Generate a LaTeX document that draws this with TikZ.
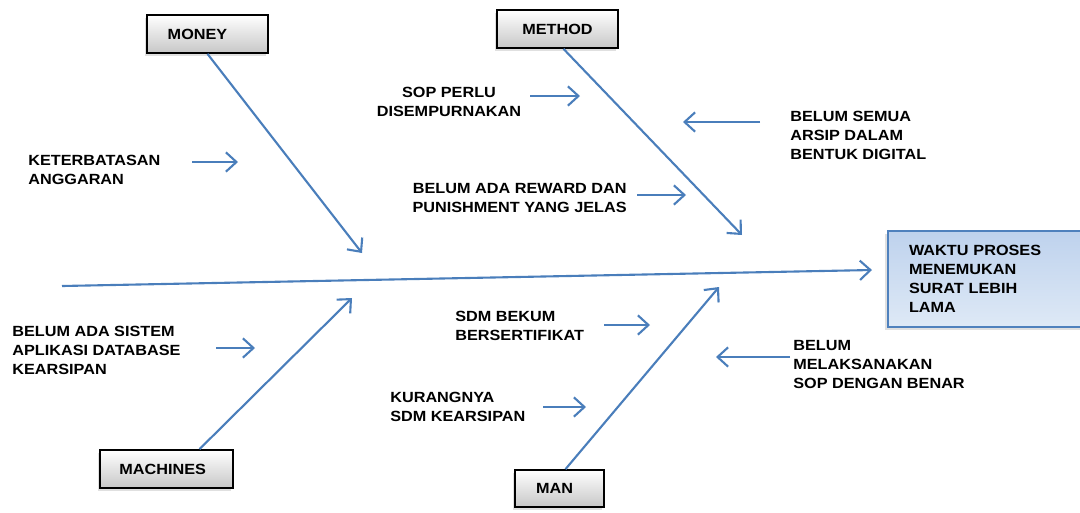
\documentclass[tikz,border=0pt]{standalone}
\usepackage{fontspec}
\setmainfont{Liberation Sans}[FakeStretch=1.1]
\usetikzlibrary{
  arrows.meta,
  shadows,
  positioning
}
\definecolor{bonecolor}{RGB}{74,126,187}
\definecolor{effectdraw}{RGB}{79,129,189}
\definecolor{effecttop}{RGB}{190,210,237}
\definecolor{effectbot}{RGB}{222,233,246}

\begin{document}
\begin{tikzpicture}[
      x=0.02cm, y=-0.02cm,
      category/.style={
         rectangle,
         minimum width=2.42cm,
         minimum height=0.76cm,
         line width=1pt,
         draw=black,
         top color=white,
         bottom color=black!22,
         drop shadow={shadow xshift=-1pt,shadow yshift=-1.5pt,fill=black!30,opacity=.4},
         font=\fontsize{8.4}{10.8}\selectfont\bfseries
      },
      effect/.style={
         rectangle,
         anchor=north west,
         minimum height=1.92cm,
         text width=3.5cm,
         inner xsep=0.42cm,
         align=left,
         line width=1.2pt,
         draw=effectdraw,
         top color=effecttop,
         bottom color=effectbot,
         drop shadow={shadow xshift=-1.5pt,shadow yshift=-1.5pt,fill=black!30,opacity=.4},
         font=\fontsize{8.4}{10.8}\selectfont\bfseries
      },
      cause/.style={
         inner sep=0pt,
         font=\fontsize{8.4}{10.8}\selectfont\bfseries
      },
      bone/.style={draw=bonecolor,line width=1.2pt},
      tip/.style={bone,-{Straight Barb[length=6pt,width=11pt]}}
    ]
    \clip (0,0) rectangle (1080,512);
    % main categories
    \node (money)    [category] at (207.5,34)  {MONEY\hspace*{0.4cm}};
    \node (method)   [category] at (557.5,29)  {METHOD};
    \node (machines) [category, minimum width=2.66cm] at (166.5,469) {MACHINES\hspace*{0.15cm}};
    \node (man)      [category, minimum width=1.78cm, minimum height=0.74cm] at (559.5,488.5) {MAN\hspace*{0.2cm}};
    \node (effect)   [effect] at (887,230) {WAKTU PROSES\\MENEMUKAN\\SURAT LEBIH\\LAMA};

    % causes
    \node (anggaran)  [cause, anchor=north west, align=left]   at (28,155)  {KETERBATASAN\\ANGGARAN};
    \node (sop)       [cause, anchor=north, align=center]      at (449,87)  {SOP PERLU\\DISEMPURNAKAN};
    \node (arsip)     [cause, anchor=north west, align=left]   at (790,111) {BELUM SEMUA\\ARSIP DALAM\\BENTUK DIGITAL};
    \node (reward)    [cause, anchor=north east, align=right]  at (627,183) {BELUM ADA REWARD DAN\\PUNISHMENT YANG JELAS};
    \node (sertifikat)[cause, anchor=north west, align=left]   at (455,311) {SDM BEKUM\\BERSERTIFIKAT};
    \node (sistem)    [cause, anchor=north west, align=left]   at (12,326)  {BELUM ADA SISTEM\\APLIKASI DATABASE\\KEARSIPAN};
    \node (kurang)    [cause, anchor=north west, align=left]   at (390,392) {KURANGNYA\\SDM KEARSIPAN};
    \node (benar)     [cause, anchor=north west, align=left]   at (793,340) {BELUM\\MELAKSANAKAN\\SOP DENGAN BENAR};

    % spine and bone ends
    \coordinate (tail) at (62,286);
    \coordinate (head) at (872,270);
    \coordinate (money-tip)    at (362,253);
    \coordinate (method-tip)   at (742,235);
    \coordinate (machines-tip) at (352,298);
    \coordinate (man-tip)      at (719,287);

    \draw[tip] (tail) -- (head);
    \draw[tip] (money.south) -- (money-tip);
    \draw[tip] (method.south) ++(6,0) -- (method-tip);
    \draw[tip] (machines.north) ++(33,0) -- (machines-tip);
    \draw[tip] (man.north) ++(6,0) -- (man-tip);

    % small cause arrows
    \coordinate (anggaran-s)   at (192,162); \coordinate (anggaran-e)   at (238,162);
    \coordinate (sop-s)        at (530,96);  \coordinate (sop-e)        at (580,96);
    \coordinate (arsip-s)      at (760,122); \coordinate (arsip-e)      at (683,122);
    \coordinate (reward-s)     at (637,195); \coordinate (reward-e)     at (686,195);
    \coordinate (sertifikat-s) at (604,325); \coordinate (sertifikat-e) at (650,325);
    \coordinate (sistem-s)     at (216,348); \coordinate (sistem-e)     at (255,348);
    \coordinate (kurang-s)     at (543,407); \coordinate (kurang-e)     at (586,407);
    \coordinate (benar-s)      at (790,357); \coordinate (benar-e)      at (716,357);

    \foreach \c in {anggaran,sop,arsip,reward,sertifikat,sistem,kurang,benar}
       \draw[tip] (\c-s) -- (\c-e);
\end{tikzpicture}
\end{document}
